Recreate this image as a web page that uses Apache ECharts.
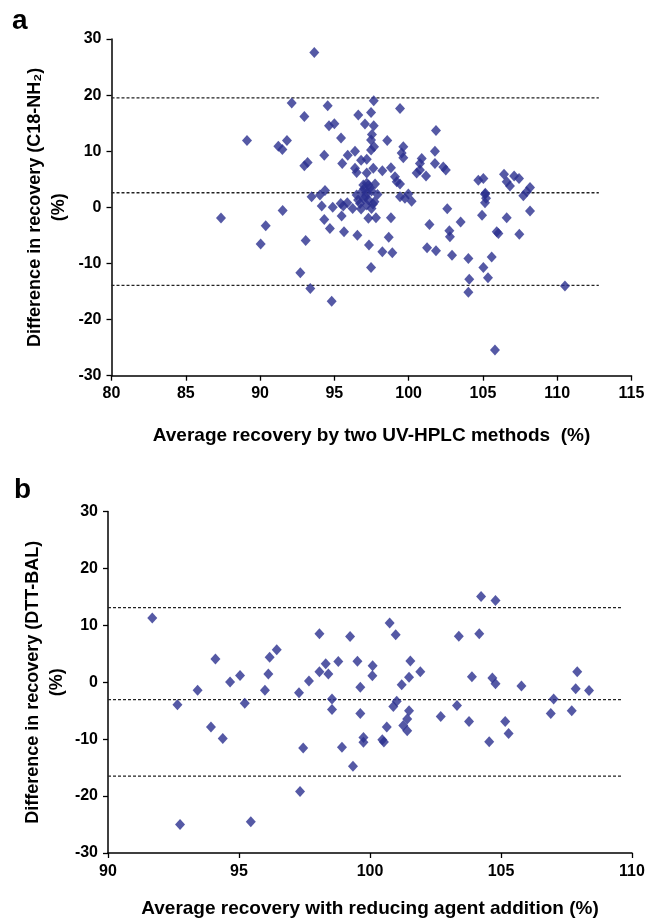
<!DOCTYPE html>
<html><head><meta charset="utf-8">
<script src="https://cdn.jsdelivr.net/npm/echarts@6/dist/echarts.min.js"></script>
<style>html,body{margin:0;padding:0;background:#fff}#c{width:648px;height:919px}</style>
</head><body><div id="c"></div>
<script>
// Panel a: average recovery by two UV-HPLC methods (%) vs difference (C18-NH2)
const aAvg = [93.65,92.13,94.55,92.98,96.61,97.06,94.64,95.0,95.45,89.12,91.81,91.23,91.5,96.39,95.9,94.32,93.2,92.98,95.53,96.8,97.18,96.39,96.5,97.18,96.95,97.18,93.47,94.03,94.37,
  97.65,97.47,99.42,97.65,97.53,97.47,101.84,98.56,97.67,97.47,99.64,99.53,99.64,101.77,100.88,100.76,100.54,100.76,101.77,102.33,102.5,101.17,98.23,98.81,97.62,99.08,99.2,99.42,97.3,97.74,
  104.69,105.03,106.42,106.6,106.82,107.1,107.43,108.17,107.95,107.72,105.14,105.21,99.42,99.98,99.75,
  87.37,90.38,90.04,91.52,93.07,92.71,93.38,94.82,94.15,94.89,94.32,94.7,95.43,95.87,95.6,95.49,96.23,95.65,96.55,96.5,96.95,96.73,97.18,97.29,97.33,97.47,
  97.8,98.81,98.66,98.23,98.9,100.2,101.4,102.6,103.5,102.74,102.78,101.24,101.84,102.92,104.02,104.08,104.02,105.03,105.34,105.59,104.94,105.16,105.14,105.93,106.04,106.6,107.45,108.17,110.52,105.81,
  96.9,97.2,97.5,97.0,97.4,97.7,96.6,97.1,97.6,97.3,97.9,96.8,97.5];
const aDiff = [27.6,18.6,18.1,16.2,16.45,14.85,14.55,14.9,12.35,11.9,11.9,10.9,10.3,10.0,9.3,9.3,8.0,7.4,7.8,8.4,8.55,6.95,6.2,6.1,4.0,4.3,1.9,2.2,3.0,
  19.0,16.9,17.6,14.55,13.0,12.0,13.7,11.9,10.8,10.2,10.8,9.7,8.85,10.0,8.7,7.8,6.1,6.65,7.8,7.2,6.65,5.6,6.5,7.05,6.95,5.45,4.55,4.15,4.0,4.15,
  4.85,5.15,5.9,4.55,3.8,5.6,5.15,3.55,2.8,2.05,2.35,1.6,1.9,2.4,1.6,
  -1.9,-3.3,-6.55,-0.55,-5.9,-11.65,-14.45,-16.75,0.25,0,-2.15,-3.75,0.7,0.8,0.25,-1.55,-0.2,-4.35,-4.95,2.2,1.6,0.7,0.4,-1.95,-6.7,-10.7,
  -1.85,-1.85,-5.35,-7.9,-8.1,1.1,-3.05,-0.25,-2.6,-4.15,-5.25,-7.2,-7.75,-8.55,-9.1,-12.8,-15.15,-10.7,-12.55,-8.85,-1.4,2.5,0.8,-4.35,-4.65,-1.85,-4.8,-0.65,-14.0,-25.4,
  2.9,2.6,2.9,3.3,3.5,1.0,1.3,1.9,0.6,1.3,2.3,-0.3,-0.2];
const aLimits = [19.5, 2.6, -13.9];
const aLimitSpan = [80, 112.8];

// Panel b: average recovery with reducing agent addition (%) vs difference (DTT-BAL)
const bAvg = [91.69,94.1,96.17,96.44,98.07,99.24,98.31,98.79,99.52,104.24,104.79,100.75,100.98,103.39,104.17,100.1,101.54,101.92,107.91,
  93.42,92.65,94.66,95.04,96.12,95.99,95.22,93.93,94.38,92.75,95.45,97.33,97.45,97.29,97.67,98.07,98.41,98.55,98.55,98.93,99.35,99.63,99.63,99.75,99.75,
  100.09,101.49,101.21,101.02,100.89,101.49,101.42,101.27,101.42,100.64,100.47,100.53,102.7,103.32,103.78,103.89,104.67,104.79,105.78,104.55,105.16,105.29,107.01,106.9,107.7,107.85,108.36];
const bDiff = [11.3,4.1,4.4,5.7,8.5,8.05,3.25,3.65,3.7,15.05,14.35,10.4,8.35,8.1,8.5,2.9,3.75,1.85,1.85,
  -1.4,-3.95,0.05,1.2,1.45,-1.4,-3.7,-7.85,-9.9,-25.0,-24.5,-19.2,-11.55,-1.85,0.2,1.85,1.45,-2.95,-4.8,-11.4,-14.75,-0.9,-5.5,-9.7,-10.55,
  1.15,0.9,-0.45,-3.35,-4.25,-5.0,-6.45,-7.6,-8.5,-7.85,-10.1,-10.5,-6.0,-4.1,-6.9,0.95,0.75,-0.25,-0.65,-10.45,-6.9,-9.0,-2.95,-5.5,-5.0,-1.15,-1.45];
const bLimits = [13.1, -3.05, -16.5];
const bLimitSpan = [90, 109.6];

const chart = echarts.init(document.getElementById('c'), null, {renderer:'canvas'});
const FONT = 'Liberation Sans, Arial, sans-serif';
const markerColor = '#2B2F8F';

function zip(xs, ys){ return xs.map((x,i)=>[x, ys[i]]); }
function base(){
  return {
    nameMoveOverlap:false,
    axisLine:{onZero:false, lineStyle:{color:'#000', width:1.5}},
    axisTick:{show:true, inside:false, length:5, lineStyle:{color:'#000', width:1.3}},
    splitLine:{show:false},
    axisLabel:{color:'#000', fontFamily:FONT, fontSize:16, fontWeight:'bold'},
    nameTextStyle:{color:'#000', fontFamily:FONT, fontSize:19, fontWeight:'bold'}
  };
}
function limitSeries(limits, span, idx){
  return limits.map(v=>({
    type:'line', xAxisIndex:idx, yAxisIndex:idx, symbol:'none', silent:true, z:1,
    data:[[span[0], v],[span[1], v]],
    lineStyle:{color:'#222', width:1.3, type:[3,2]}
  }));
}
const yNameStyle = {color:'#000', fontFamily:FONT, fontSize:18, fontWeight:'bold', lineHeight:24, align:'center'};

const xa = Object.assign(base(), {gridIndex:0, type:'value', min:80, max:115, interval:5,
  name:'Average recovery by two UV-HPLC methods  (%)', nameLocation:'middle', nameGap:51});
xa.axisLabel.margin = 10;
const ya = Object.assign(base(), {gridIndex:0, type:'value', min:-30, max:30, interval:10,
  name:'Difference in recovery (C18-NH\u2082)\n(%)', nameLocation:'middle', nameGap:40, nameRotate:90});
ya.axisLabel.margin = 10;
ya.nameTextStyle = yNameStyle;
const xb = Object.assign(base(), {gridIndex:1, type:'value', min:90, max:110, interval:5,
  name:'Average recovery with reducing agent addition (%)', nameLocation:'middle', nameGap:46});
xb.axisLabel.margin = 11;
const yb = Object.assign(base(), {gridIndex:1, type:'value', min:-30, max:30, interval:10,
  name:'Difference in recovery (DTT-BAL)\n(%)', nameLocation:'middle', nameGap:39, nameRotate:90});
yb.axisLabel.margin = 10;
yb.nameTextStyle = yNameStyle;

chart.setOption({
  animation:false,
  backgroundColor:'#fff',
  grid:[
    {left:111.5, top:39, width:520, height:336.7, containLabel:false},
    {left:108, top:511.5, width:524, height:342, containLabel:false}
  ],
  xAxis:[xa, xb],
  yAxis:[ya, yb],
  graphic:[
    {type:'text', left:12, top:7, style:{text:'a', font:'bold 28px '+FONT, fill:'#000'}},
    {type:'text', left:14, top:476, style:{text:'b', font:'bold 28px '+FONT, fill:'#000'}}
  ],
  series:[
    ...limitSeries(aLimits, aLimitSpan, 0),
    ...limitSeries(bLimits, bLimitSpan, 1),
    {type:'scatter', xAxisIndex:0, yAxisIndex:0, z:3, symbol:'diamond', symbolSize:[10,11],
      itemStyle:{color:markerColor}, data:zip(aAvg, aDiff)},
    {type:'scatter', xAxisIndex:1, yAxisIndex:1, z:3, symbol:'diamond', symbolSize:[10,11],
      itemStyle:{color:markerColor}, data:zip(bAvg, bDiff)}
  ]
});
</script>
</body></html>
